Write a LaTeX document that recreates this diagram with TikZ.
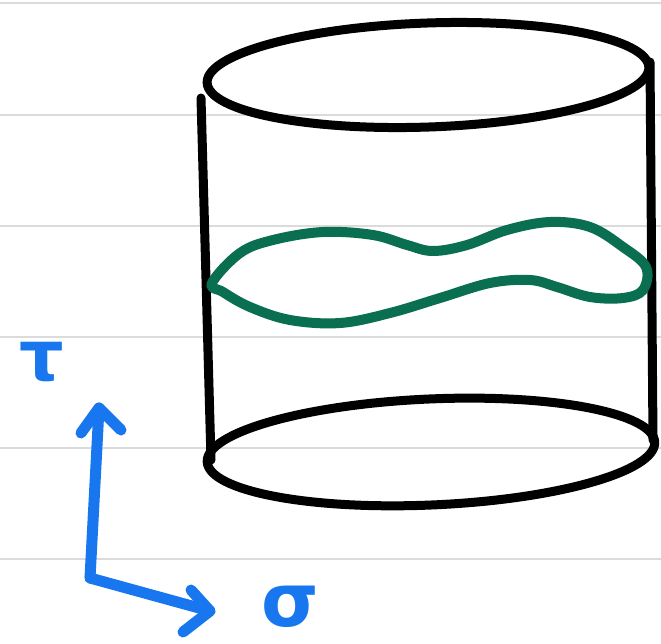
\documentclass[tikz,border=0pt]{standalone}
\usepackage{fontspec}
\newfontfamily\greekfont{DejaVu Sans}
\begin{document}
\begin{tikzpicture}[x=1pt,y=-1pt,
  ruled/.style={draw=black!14,line width=2.5pt},
  ink/.style={draw=black,line width=9pt,line cap=round,line join=round},
  axis/.style={draw=axisblue,line width=11pt,line cap=round,line join=round},
  glabel/.style={text=axisblue,inner sep=0pt,font=\greekfont\bfseries}]
\definecolor{axisblue}{RGB}{24,118,238}
\definecolor{loopgreen}{RGB}{10,110,80}
\useasboundingbox (0,0) rectangle (661,643);
\fill[white] (0,0) rectangle (661,643);
% ruled paper lines
\foreach \yy in {3,115,226,337,448,559}
  \draw[ruled] (0,\yy) -- (661,\yy);
% cylinder
\coordinate (topc) at (428,75);
\coordinate (botc) at (431,452);
\draw[ink,rotate around={2:(topc)}] (topc) ellipse (221pt and 52pt);
\draw[ink,rotate around={2.5:(botc)}] (botc) ellipse (224pt and 53pt);
\coordinate (lt) at (201,98);
\coordinate (lb) at (211,460);
\coordinate (rt) at (650,62);
\coordinate (rb) at (653,440);
\draw[ink] (lt) -- (lb);
\draw[ink] (rt) -- (rb);
% closed string
\draw[draw=loopgreen,line width=10pt,line join=round] plot[smooth cycle,tension=0.6] coordinates {
 (212,283) (240,253) (273,240) (323,232) (373,235) (407,245) (433,251)
 (467,245) (507,230) (550,222) (590,227) (623,247) (646,267) (643,290)
 (623,298) (590,297) (557,287) (530,280) (490,283) (440,298) (390,313)
 (340,323) (290,320) (250,307) (223,292)};
% axes
\coordinate (corner) at (90,578);
\coordinate (tautip) at (99,408);
\coordinate (sigtip) at (210,611);
\draw[axis] (corner) -- (tautip);
\draw[axis] (81,433) -- (tautip) -- (121,430);
\draw[axis] (corner) -- (sigtip);
\draw[axis] (191,590) -- (sigtip) -- (183,632);
\node[glabel,font=\greekfont\bfseries\fontsize{70}{70}\selectfont] (tau) at (42,362) {τ};
\node[glabel,font=\greekfont\bfseries\fontsize{74}{74}\selectfont] (sigma) at (290,607) {σ};
\end{tikzpicture}
\end{document}
